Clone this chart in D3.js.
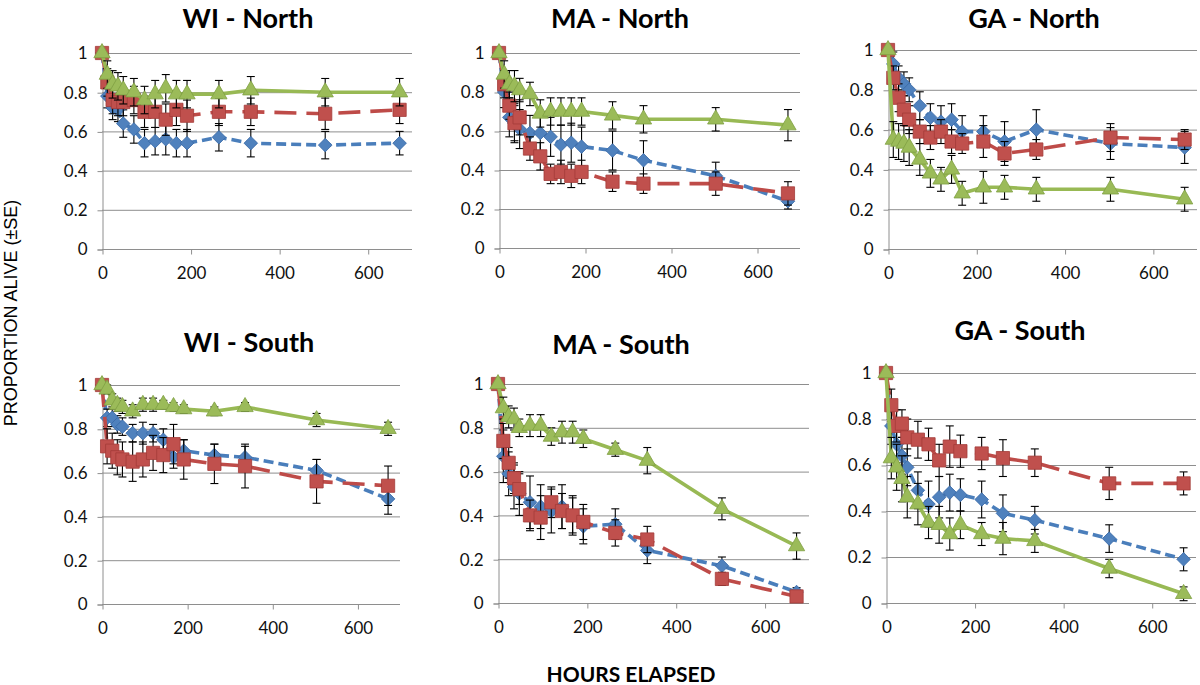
<!DOCTYPE html>
<html><head><meta charset="utf-8">
<script src="https://cdn.jsdelivr.net/npm/d3@7"></script>
<style>body{margin:0;background:#fff}svg{display:block}</style>
</head><body>
<svg id="c" width="1200" height="685"></svg>
<script>
// ---------- DATA ----------
const panelTitles = ["WI - North","MA - North","GA - North","WI - South","MA - South","GA - South"];
const timesStd = [0,12,24,36,48,72,96,120,144,168,192,264,336,504,672];
const timesGA  = [0,12,24,36,48,72,96,120,144,168,216,264,336,504,672];
const xTickValues = [0,200,400,600];
const yTickValues = [0,0.2,0.4,0.6,0.8,1];
const yTickLabels = ["0","0.2","0.4","0.6","0.8","1"];
const yAxisTitle = "PROPORTION ALIVE (±SE)";
const xAxisTitle = "HOURS ELAPSED";

// WI - North
const wiNorthBlue    = [1.00,0.78,0.72,0.71,0.64,0.61,0.54,0.55,0.56,0.54,0.54,0.57,0.54,0.53,0.54];
const wiNorthBlueSE  = [0,0.06,0.06,0.06,0.07,0.07,0.07,0.07,0.08,0.07,0.07,0.07,0.07,0.07,0.06];
const wiNorthRed     = [1.00,0.85,0.76,0.75,0.75,0.76,0.70,0.70,0.66,0.71,0.68,0.70,0.70,0.69,0.71];
const wiNorthRedSE   = [0,0.07,0.07,0.07,0.07,0.07,0.08,0.08,0.08,0.08,0.08,0.07,0.07,0.08,0.07];
const wiNorthGreen   = [1.00,0.89,0.84,0.83,0.81,0.80,0.76,0.79,0.82,0.79,0.79,0.79,0.81,0.80,0.80];
const wiNorthGreenSE = [0,0.07,0.07,0.07,0.07,0.07,0.07,0.07,0.07,0.07,0.07,0.07,0.07,0.07,0.07];
// MA - North
const maNorthBlue    = [1.00,0.80,0.67,0.64,0.61,0.59,0.59,0.57,0.53,0.54,0.52,0.50,0.45,0.37,0.24];
const maNorthBlueSE  = [0,0.08,0.10,0.10,0.10,0.09,0.09,0.10,0.10,0.10,0.10,0.10,0.10,0.07,0.04];
const maNorthRed     = [1.00,0.84,0.73,0.64,0.67,0.51,0.47,0.38,0.39,0.37,0.39,0.34,0.33,0.33,0.28];
const maNorthRedSE   = [0,0.07,0.07,0.09,0.09,0.06,0.07,0.05,0.06,0.06,0.06,0.05,0.05,0.06,0.06];
const maNorthGreen   = [1.00,0.89,0.84,0.83,0.81,0.79,0.69,0.70,0.70,0.70,0.70,0.68,0.66,0.66,0.63];
const maNorthGreenSE = [0,0.07,0.07,0.08,0.06,0.06,0.07,0.07,0.07,0.07,0.07,0.07,0.07,0.06,0.08];
// GA - North
const gaNorthBlue    = [1.00,0.93,0.86,0.83,0.80,0.72,0.66,0.64,0.65,0.59,0.59,0.54,0.60,0.53,0.51];
const gaNorthBlueSE  = [0,0.06,0.06,0.06,0.06,0.07,0.07,0.08,0.08,0.08,0.08,0.10,0.10,0.08,0.08];
const gaNorthRed     = [1.00,0.86,0.76,0.70,0.65,0.59,0.56,0.59,0.54,0.53,0.54,0.48,0.50,0.56,0.55];
const gaNorthRedSE   = [0,0.06,0.07,0.07,0.07,0.06,0.06,0.06,0.06,0.05,0.08,0.06,0.05,0.07,0.05];
const gaNorthGreen   = [1.00,0.55,0.54,0.53,0.51,0.45,0.38,0.35,0.40,0.28,0.31,0.31,0.30,0.30,0.25];
const gaNorthGreenSE = [0,0.09,0.09,0.09,0.09,0.08,0.07,0.06,0.07,0.06,0.08,0.06,0.06,0.06,0.06];
// WI - South
const wiSouthBlue    = [1.00,0.85,0.85,0.82,0.81,0.78,0.78,0.78,0.75,0.67,0.70,0.68,0.67,0.61,0.48];
const wiSouthBlueSE  = [0,0.04,0.04,0.04,0.04,0.04,0.05,0.04,0.05,0.05,0.05,0.05,0.05,0.05,0.07];
const wiSouthRed     = [1.00,0.72,0.70,0.67,0.66,0.65,0.66,0.69,0.68,0.73,0.66,0.64,0.63,0.56,0.54];
const wiSouthRedSE   = [0,0.08,0.08,0.08,0.08,0.09,0.08,0.08,0.08,0.09,0.09,0.09,0.10,0.10,0.09];
const wiSouthGreen   = [1.00,0.98,0.93,0.91,0.90,0.88,0.91,0.91,0.91,0.90,0.89,0.88,0.90,0.84,0.80];
const wiSouthGreenSE = [0,0.02,0.03,0.03,0.03,0.03,0.03,0.03,0.02,0.02,0.02,0.02,0.02,0.03,0.03];
// MA - South
const maSouthBlue    = [1.00,0.67,0.59,0.53,0.50,0.46,0.44,0.42,0.44,0.40,0.35,0.36,0.24,0.17,0.05];
const maSouthBlueSE  = [0,0.12,0.10,0.10,0.10,0.12,0.10,0.10,0.10,0.09,0.08,0.07,0.06,0.04,0.02];
const maSouthRed     = [1.00,0.74,0.64,0.57,0.52,0.40,0.39,0.46,0.42,0.40,0.37,0.32,0.29,0.11,0.03];
const maSouthRedSE   = [0,0.08,0.07,0.07,0.07,0.07,0.10,0.07,0.08,0.08,0.08,0.06,0.06,0.03,0.02];
const maSouthGreen   = [1.00,0.89,0.85,0.84,0.80,0.81,0.81,0.76,0.78,0.78,0.75,0.70,0.65,0.43,0.26];
const maSouthGreenSE = [0,0.05,0.05,0.05,0.04,0.05,0.05,0.04,0.05,0.05,0.04,0.03,0.06,0.05,0.06];
// GA - South
const gaSouthBlue    = [1.00,0.77,0.69,0.64,0.59,0.49,0.43,0.46,0.48,0.47,0.45,0.39,0.36,0.28,0.19];
const gaSouthBlueSE  = [0,0.08,0.08,0.08,0.08,0.08,0.10,0.09,0.08,0.07,0.08,0.08,0.06,0.06,0.05];
const gaSouthRed     = [1.00,0.86,0.77,0.78,0.72,0.71,0.69,0.62,0.68,0.66,0.65,0.63,0.61,0.52,0.52];
const gaSouthRedSE   = [0,0.07,0.07,0.06,0.08,0.08,0.07,0.07,0.09,0.07,0.07,0.08,0.06,0.07,0.05];
const gaSouthGreen   = [1.00,0.63,0.59,0.54,0.46,0.43,0.35,0.34,0.30,0.34,0.30,0.28,0.27,0.15,0.04];
const gaSouthGreenSE = [0,0.09,0.10,0.10,0.09,0.09,0.07,0.08,0.07,0.06,0.05,0.07,0.05,0.04,0.03];

// ---------- LAYOUT / STYLE ----------
const layout = [
  {x0:102,x1:412,yT:53,yB:249,tx:248,ty:28},
  {x0:499,x1:800,yT:53,yB:248,tx:620,ty:28},
  {x0:888,x1:1197,yT:50,yB:249,tx:1034,ty:28},
  {x0:102,x1:400,yT:385,yB:604,tx:249,ty:352},
  {x0:498,x1:809,yT:384,yB:603,tx:621,ty:354},
  {x0:886,x1:1196,yT:373,yB:603,tx:1020,ty:340}
];
const panelData = [
  {t:timesStd, s:[[wiNorthBlue,wiNorthBlueSE],[wiNorthRed,wiNorthRedSE],[wiNorthGreen,wiNorthGreenSE]]},
  {t:timesStd, s:[[maNorthBlue,maNorthBlueSE],[maNorthRed,maNorthRedSE],[maNorthGreen,maNorthGreenSE]]},
  {t:timesGA,  s:[[gaNorthBlue,gaNorthBlueSE],[gaNorthRed,gaNorthRedSE],[gaNorthGreen,gaNorthGreenSE]]},
  {t:timesStd, s:[[wiSouthBlue,wiSouthBlueSE],[wiSouthRed,wiSouthRedSE],[wiSouthGreen,wiSouthGreenSE]]},
  {t:timesStd, s:[[maSouthBlue,maSouthBlueSE],[maSouthRed,maSouthRedSE],[maSouthGreen,maSouthGreenSE]]},
  {t:timesGA,  s:[[gaSouthBlue,gaSouthBlueSE],[gaSouthRed,gaSouthRedSE],[gaSouthGreen,gaSouthGreenSE]]}
];
const styles = [
  {line:"#4A7EBB", fill:"#4F81BD", edge:"#3A6AA8", dash:"10,5", sym:"diamond"},
  {line:"#BE4B48", fill:"#C0504D", edge:"#A33B38", dash:"22,10", sym:"square"},
  {line:"#98B954", fill:"#9BBB59", edge:"#7FA043", dash:null, sym:"triangle"}
];
const gridColor = "#8e8e8e";

const svg = d3.select("#c");

panelData.forEach((pd, pi) => {
  const L = layout[pi];
  const x = d3.scaleLinear().domain([0,700]).range([L.x0, L.x1]);
  const y = d3.scaleLinear().domain([0,1]).range([L.yB, L.yT]);
  const g = svg.append("g");

  g.selectAll("line.grid").data(yTickValues).join("line")
    .attr("x1", L.x0).attr("x2", L.x1)
    .attr("y1", d => y(d)+0.5).attr("y2", d => y(d)+0.5)
    .attr("stroke", gridColor).attr("stroke-width", 1);

  const yAxis = d3.axisLeft(y).tickValues(yTickValues)
    .tickFormat((d,i) => yTickLabels[i]).tickSize(5).tickPadding(10);
  const ya = g.append("g").attr("transform", `translate(${L.x0+0.5},0.5)`).call(yAxis);
  ya.select(".domain").attr("stroke", gridColor);
  ya.selectAll(".tick line").attr("stroke", gridColor);
  ya.selectAll("text").attr("font-family","Lato, sans-serif").attr("font-size",17).attr("fill","#111");

  const xAxis = d3.axisBottom(x).tickValues(xTickValues).tickSize(5).tickPadding(12);
  const xa = g.append("g").attr("transform", `translate(0.5,${L.yB+0.5})`).call(xAxis);
  xa.select(".domain").remove();
  xa.selectAll(".tick line").attr("stroke", gridColor);
  xa.selectAll("text").attr("font-family","Lato, sans-serif").attr("font-size",17).attr("fill","#111");

  g.append("text").attr("x", L.tx).attr("y", L.ty).attr("text-anchor","middle")
    .attr("font-family","Lato, sans-serif").attr("font-weight","bold").attr("font-size",27)
    .attr("fill","#000").text(panelTitles[pi]);

  pd.s.forEach((ser, si) => {
    const st = styles[si];
    const vals = ser[0], se = ser[1];
    const pts = pd.t.map((t,i) => ({t, v:vals[i], e:se[i]}));
    const line = d3.line().x(d => x(d.t)).y(d => y(d.v));
    const path = g.append("path").datum(pts).attr("d", line)
      .attr("fill","none").attr("stroke", st.line).attr("stroke-width", 3.6)
      .attr("stroke-linejoin","round");
    if (st.dash) path.attr("stroke-dasharray", st.dash);

    const eb = g.append("g").attr("stroke","#000").attr("stroke-width",1.1);
    pts.filter(d => d.e > 0).forEach(d => {
      const cx = x(d.t);
      eb.append("line").attr("x1",cx).attr("x2",cx).attr("y1",y(d.v-d.e)).attr("y2",y(d.v+d.e));
      eb.append("line").attr("x1",cx-4).attr("x2",cx+4).attr("y1",y(d.v+d.e)).attr("y2",y(d.v+d.e));
      eb.append("line").attr("x1",cx-4).attr("x2",cx+4).attr("y1",y(d.v-d.e)).attr("y2",y(d.v-d.e));
    });

    let sym, size, rot = 0;
    if (st.sym === "diamond") { sym = d3.symbolSquare; size = 92; rot = 45; }
    else if (st.sym === "square") { sym = d3.symbolSquare; size = 175; }
    else { sym = d3.symbolTriangle; size = 115; }
    g.selectAll(null).data(pts).join("path")
      .attr("d", d3.symbol().type(sym).size(size))
      .attr("transform", d => `translate(${x(d.t)},${y(d.v)}) rotate(${rot})`)
      .attr("fill", st.fill).attr("stroke", st.edge).attr("stroke-width", 0.8);
  });
});

svg.append("text").attr("transform","translate(17,313) rotate(-90)")
  .attr("text-anchor","middle").attr("font-family","'Liberation Sans', Arial, sans-serif")
  .attr("font-size",18).attr("fill","#000").text(yAxisTitle);
svg.append("text").attr("x",631).attr("y",682).attr("text-anchor","middle")
  .attr("font-family","Lato, sans-serif").attr("font-weight","bold").attr("font-size",21)
  .attr("fill","#000").text(xAxisTitle);
</script>
</body></html>
